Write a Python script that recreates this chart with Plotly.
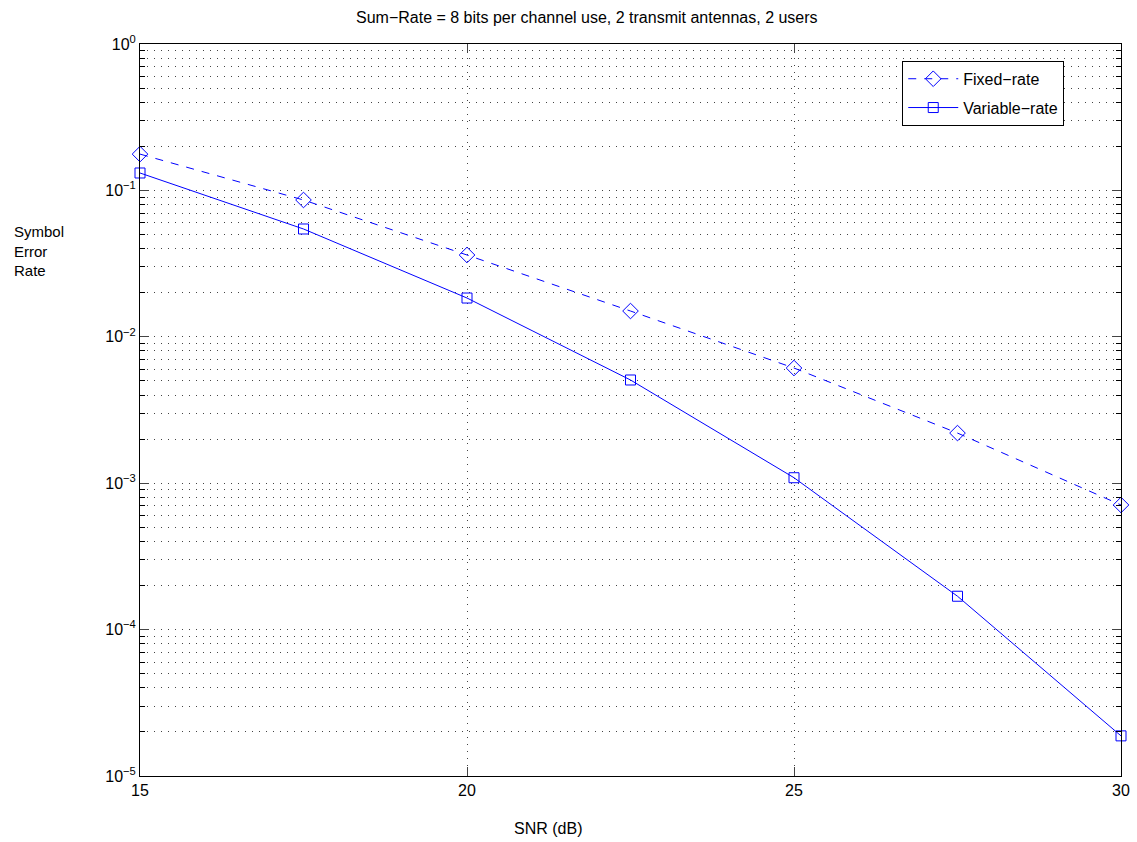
import plotly.graph_objects as go

snr = [15, 17.5, 20, 22.5, 25, 27.5, 30]
fixed_rate = [0.177, 0.086, 0.0362, 0.0150, 0.00612, 0.00220, 0.00071]
variable_rate = [0.1315, 0.0545, 0.0184, 0.00507, 0.00109, 0.000169, 0.0000188]

y_tickvals = [1e-5, 1e-4, 1e-3, 1e-2, 1e-1, 1e0]
y_ticktext = ["10<sup>−5</sup>", "10<sup>−4</sup>", "10<sup>−3</sup>", "10<sup>−2</sup>", "10<sup>−1</sup>", "10<sup>0</sup>"]
x_tickvals = [15, 20, 25, 30]
y_minor_vals = [k * 10.0 ** d for d in range(-5, 0) for k in range(2, 10)]

title_text = "Sum−Rate = 8 bits per channel use, 2 transmit antennas, 2 users"
xlabel_text = "SNR (dB)"
ylabel_text = "Symbol<br>Error<br>Rate"

font = "Liberation Sans, Arial, Helvetica, sans-serif"
blue = "#0000ff"

fig = go.Figure()
fig.add_trace(go.Scatter(
    x=snr, y=fixed_rate, name="Fixed−rate", mode="lines+markers",
    legendgroup="a",
    line=dict(color=blue, width=1, dash="8px,8px"),
    marker=dict(symbol="diamond-open", size=12, color=blue, line=dict(width=1, color=blue)),
    cliponaxis=False,
))
fig.add_trace(go.Scatter(
    x=snr, y=variable_rate, name="Variable−rate", mode="lines+markers",
    legendgroup="b",
    line=dict(color=blue, width=1),
    marker=dict(symbol="square-open", size=10, color=blue, line=dict(width=1, color=blue)),
    cliponaxis=False,
))

grid_dash = "1px,6px"
grid_color = "#444"
fig.update_layout(
    width=1137, height=842,
    margin=dict(l=140, r=16, t=44, b=66),
    paper_bgcolor="white", plot_bgcolor="white",
    font=dict(family=font, size=16, color="black"),
    showlegend=True,
    legend=dict(x=0.777, y=0.977, xanchor="left", yanchor="top",
                bgcolor="white", bordercolor="black", borderwidth=1,
                font=dict(size=16, family=font), traceorder="grouped",
                tracegroupgap=5, itemwidth=50),
    xaxis=dict(range=[15, 30], tickvals=x_tickvals, ticks="inside", ticklen=9,
               showline=True, linecolor="black", linewidth=1, mirror="allticks",
               showgrid=True, gridcolor=grid_color, griddash=grid_dash, gridwidth=1,
               zeroline=False, tickfont=dict(size=16, family=font), automargin=False,
               minor=dict(ticks="", showgrid=False)),
    yaxis=dict(type="log", range=[-5, 0], tickvals=y_tickvals, ticktext=y_ticktext,
               ticks="inside", ticklen=9, automargin=False,
               showline=True, linecolor="black", linewidth=1, mirror="allticks",
               showgrid=True, gridcolor=grid_color, griddash=grid_dash, gridwidth=1,
               zeroline=False, tickfont=dict(size=16, family=font),
               minor=dict(tickvals=y_minor_vals, ticks="inside", ticklen=5,
                          showgrid=True, gridcolor=grid_color,
                          griddash=grid_dash, gridwidth=1, tickcolor="black")),
    annotations=[
        dict(text=title_text, xref="paper", yref="paper", x=0.4557, y=1.0, yshift=27,
             showarrow=False, font=dict(size=16, family=font), xanchor="center", yanchor="middle"),
        dict(text=xlabel_text, xref="paper", yref="paper", x=0.416, y=0, yshift=-52,
             showarrow=False, font=dict(size=16, family=font), xanchor="center", yanchor="middle"),
        dict(text=ylabel_text, xref="paper", yref="paper", x=-0.1305, y=0.717,
             showarrow=False, font=dict(size=15, family=font), xanchor="left", yanchor="middle",
             align="left"),
    ],
)

fig.write_html("out.html", config={"displayModeBar": False},
               post_script="document.body.style.margin='0';document.body.style.overflow='hidden';")
